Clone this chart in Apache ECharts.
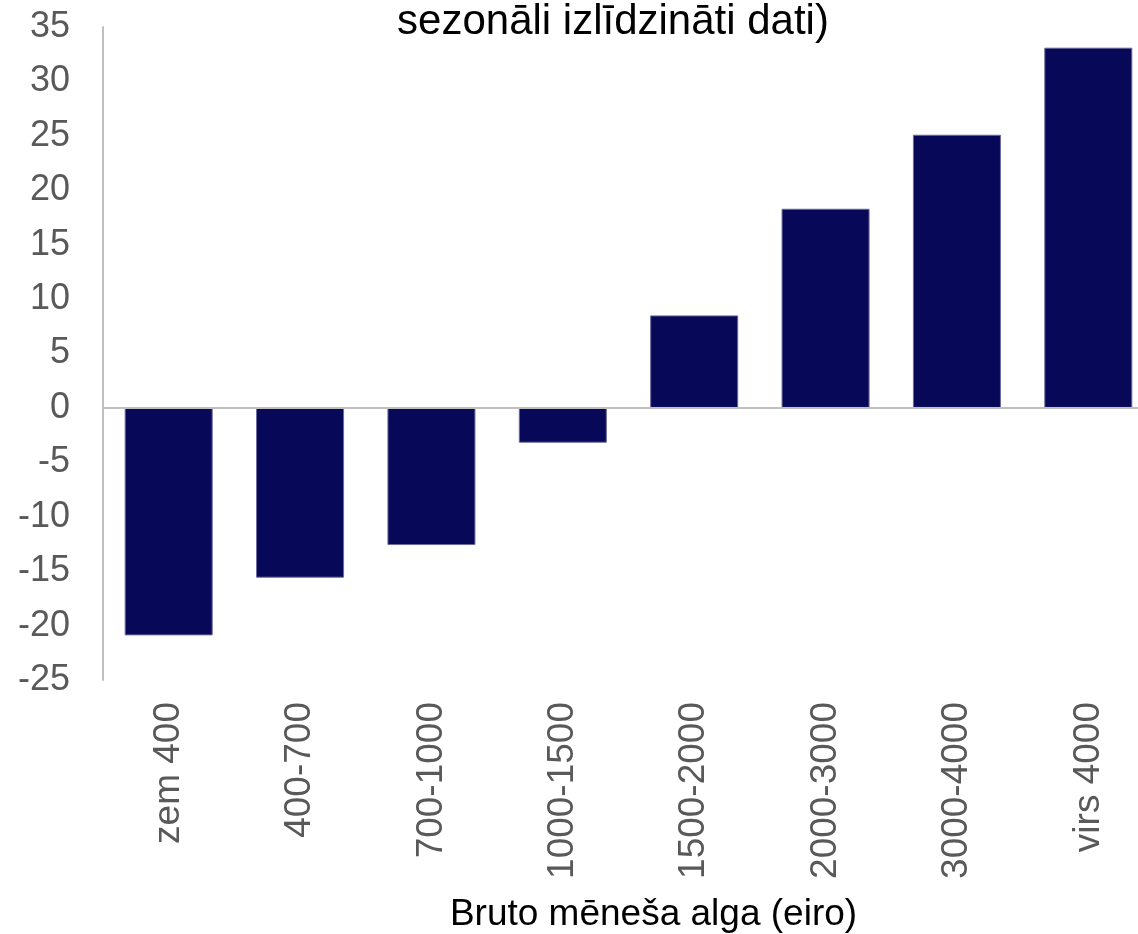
<!DOCTYPE html>
<html>
<head>
<meta charset="utf-8">
<title>Bruto mēneša alga</title>
<script src="https://cdn.jsdelivr.net/npm/echarts@6/dist/echarts.min.js"></script>
<style>
    html, body { margin: 0; padding: 0; background: #fff; }
    #main { width: 1138px; height: 934px; }
</style>
</head>
<body>
<div id="main"></div>
<script>
    // algu grupas un vērtības
    var categories = ['zem 400', '400-700', '700-1000', '1000-1500', '1500-2000', '2000-3000', '3000-4000', 'virs 4000'];
    var values = [-20.9, -15.6, -12.6, -3.2, 8.5, 18.3, 25.1, 33.1];
    var titleText = 'sezonāli izlīdzināti dati)';
    var axisName = 'Bruto mēneša alga (eiro)';

    var fontName = 'Liberation Sans, Arial, sans-serif';
    var gray = '#bfbfbf';

    var chart = echarts.init(document.getElementById('main'));
    var option = {
        backgroundColor: '#fff',
        animation: false,
        title: {
            text: titleText,
            left: 608,
            textAlign: 'center',
            top: -4,
            textStyle: {
                fontFamily: fontName,
                fontSize: 42,
                fontWeight: 'normal',
                color: '#000'
            }
        },
        grid: {
            left: 103,
            right: -16,
            top: 27,
            bottom: 254,
            containLabel: false,
            outerBoundsMode: 'none'
        },
        xAxis: {
            type: 'category',
            data: categories,
            name: axisName,
            nameLocation: 'middle',
            nameGap: 216,
            nameTextStyle: {
                fontFamily: fontName,
                fontSize: 37,
                color: '#000',
                padding: [0, 0, 0, 50]
            },
            axisLine: { show: false, onZero: false },
            axisTick: { show: false },
            axisLabel: {
                interval: 0,
                rotate: 90,
                margin: 22,
                fontFamily: fontName,
                fontSize: 37,
                color: '#595959'
            },
            splitLine: { show: false }
        },
        yAxis: {
            type: 'value',
            min: -25,
            max: 35,
            interval: 5,
            axisLine: {
                show: true,
                lineStyle: { color: gray, width: 2 }
            },
            axisTick: { show: false },
            axisLabel: {
                margin: 33,
                fontFamily: fontName,
                fontSize: 36,
                color: '#595959'
            },
            splitLine: { show: false }
        },
        series: [
            {
                type: 'bar',
                data: values,
                barCategoryGap: '33%',
                itemStyle: {
                    color: '#080858',
                    borderColor: '#6a6a9a',
                    borderWidth: 1
                },
                markLine: {
                    silent: true,
                    symbol: 'none',
                    label: { show: false },
                    lineStyle: { color: gray, width: 2, type: 'solid' },
                    data: [{ yAxis: 0 }]
                }
            }
        ]
    };
    chart.setOption(option);
</script>
</body>
</html>
